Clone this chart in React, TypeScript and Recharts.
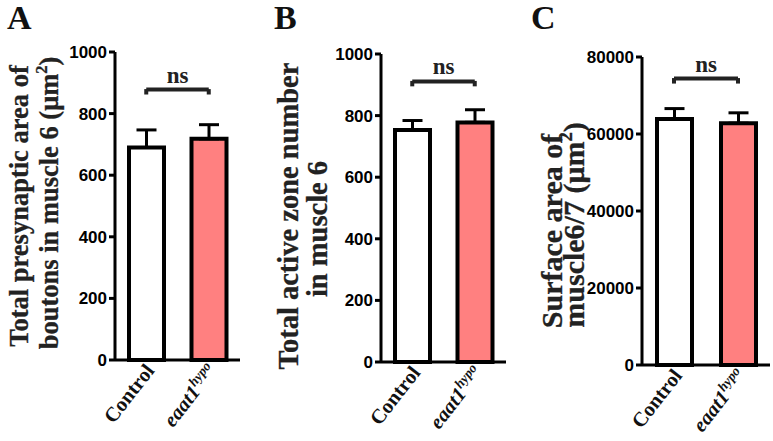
import React from 'react';
import { BarChart, Bar, XAxis, YAxis, Cell, ErrorBar, ReferenceLine } from 'recharts';

const categories = ['Control', 'eaat1'];
const barColors = ['#ffffff', '#ff8080'];

const panelAValues = [690, 718];
const panelAErrors = [57, 46];
const panelATicks = [0, 200, 400, 600, 800, 1000];

const panelBValues = [753, 778];
const panelBErrors = [31, 41];
const panelBTicks = [0, 200, 400, 600, 800, 1000];

const panelCValues = [63900, 62800];
const panelCErrors = [2700, 2700];
const panelCTicks = [0, 20000, 40000, 60000, 80000];

const bracketA = 878;
const bracketB = 911;
const bracketC = 74400;

const SERIF = 'Liberation Serif';
const SANS = 'Liberation Sans';

const buildRows = (values: number[], errors: number[]) =>
  categories.map((c, i) => ({ name: c, value: values[i], err: [0, errors[i]] }));

const XTick = (props: any) => {
  const { x, y, payload } = props;
  const isCtrl = payload.value === 'Control';
  return (
    <g transform={`translate(${x + 9},${y + 3}) rotate(-52)`}>
      <text
        x={0}
        y={0}
        textAnchor="end"
        fontFamily={SERIF}
        fontWeight="bold"
        fontSize={20.5}
        fill="#111"
      >
        {isCtrl ? (
          'Control'
        ) : (
          <>
            <tspan fontStyle="italic">eaat1</tspan>
            <tspan fontStyle="italic" fontSize={13.5} dy={-8}>hypo</tspan>
          </>
        )}
      </text>
    </g>
  );
};

const YTick = (props: any) => {
  const { x, y, payload } = props;
  return (
    <text x={x} y={y} dy={6} textAnchor="end" fontFamily={SANS} fontWeight="bold" fontSize={17} fill="#000">
      {payload.value}
    </text>
  );
};

const NsLabel = (props: any) => {
  const vb = props.viewBox || {};
  const cx = (vb.x || 0) + (vb.width || 0) / 2;
  return (
    <text x={cx} y={(vb.y || 0) - 7} textAnchor="middle" fontFamily={SERIF} fontWeight="bold" fontSize={23} fill="#222">
      ns
    </text>
  );
};

type PanelProps = {
  left: number;
  width: number;
  yAxisWidth: number;
  marginTop: number;
  marginRight: number;
  xAxisHeight: number;
  values: number[];
  errors: number[];
  ticks: number[];
  bracket: number;
  leg: number;
};

const Panel = (p: PanelProps) => {
  const data = buildRows(p.values, p.errors);
  const max = p.ticks[p.ticks.length - 1];
  return (
    <div style={{ position: 'absolute', left: p.left, top: 0 }}>
      <BarChart
        width={p.width}
        height={441}
        data={data}
        margin={{ top: p.marginTop, right: p.marginRight, bottom: 0, left: 0 }}
        barSize={35}
      >
        <XAxis
          dataKey="name"
          height={p.xAxisHeight}
          axisLine={{ stroke: '#000', strokeWidth: 3 }}
          tickLine={false}
          tick={<XTick />}
          interval={0}
        />
        <YAxis
          width={p.yAxisWidth}
          domain={[0, max]}
          ticks={p.ticks}
          interval={0}
          axisLine={{ stroke: '#000', strokeWidth: 3 }}
          tickLine={{ stroke: '#000', strokeWidth: 3 }}
          tickSize={6}
          tickMargin={2}
          tick={<YTick />}
        />
        <Bar dataKey="value" stroke="#000" strokeWidth={4} isAnimationActive={false}>
          {data.map((d, i) => (
            <Cell key={d.name} fill={barColors[i]} />
          ))}
          <ErrorBar dataKey="err" width={10} stroke="#000" strokeWidth={3} direction="y" />
        </Bar>
        <ReferenceLine
          segment={[{ x: categories[0], y: p.bracket }, { x: categories[1], y: p.bracket }]}
          stroke="#222"
          strokeWidth={4}
          ifOverflow="visible"
          label={<NsLabel />}
        />
        <ReferenceLine
          segment={[{ x: categories[0], y: p.bracket + p.leg * 0.1 }, { x: categories[0], y: p.bracket - p.leg }]}
          stroke="#222"
          strokeWidth={4}
          ifOverflow="visible"
        />
        <ReferenceLine
          segment={[{ x: categories[1], y: p.bracket + p.leg * 0.1 }, { x: categories[1], y: p.bracket - p.leg }]}
          stroke="#222"
          strokeWidth={4}
          ifOverflow="visible"
        />
      </BarChart>
    </div>
  );
};

const YLabel = ({ x, y, size, text, sup, after }: { x: number; y: number; size: number; text: string; sup?: string; after?: string }) => (
  <text
    x={x}
    y={y}
    transform={`rotate(-90, ${x}, ${y})`}
    textAnchor="middle"
    fontFamily={SERIF}
    fontWeight="bold"
    fontSize={size}
    fill="#222"
    stroke="#222"
    strokeWidth={0.3}
  >
    {text}
    {sup ? (
      <tspan fontSize={size * 0.62} dy={-size * 0.4}>{sup}</tspan>
    ) : null}
    {after ? <tspan dy={size * 0.4}>{after}</tspan> : null}
  </text>
);

export default function App() {
  return (
    <div style={{ position: 'absolute', left: 0, top: 0, width: 773, height: 441, background: '#fff', overflow: 'hidden' }}>
      <Panel left={0} width={245} yAxisWidth={115} marginTop={52} marginRight={5} xAxisHeight={81}
        values={panelAValues} errors={panelAErrors} ticks={panelATicks} bracket={bracketA} leg={16} />
      <Panel left={260} width={250} yAxisWidth={121} marginTop={54} marginRight={4} xAxisHeight={79}
        values={panelBValues} errors={panelBErrors} ticks={panelBTicks} bracket={bracketB} leg={16} />
      <Panel left={515} width={258} yAxisWidth={127} marginTop={57} marginRight={3} xAxisHeight={76}
        values={panelCValues} errors={panelCErrors} ticks={panelCTicks} bracket={bracketC} leg={1300} />
      <svg width={773} height={441} style={{ position: 'absolute', left: 0, top: 0, pointerEvents: 'none' }}>
        <text x={7} y={29} fontFamily={SERIF} fontWeight="bold" fontSize={34} fill="#111">A</text>
        <text x={274} y={29} fontFamily={SERIF} fontWeight="bold" fontSize={34} fill="#111">B</text>
        <text x={531} y={29} fontFamily={SERIF} fontWeight="bold" fontSize={34} fill="#111">C</text>

        <YLabel x={28} y={206} size={26.5} text="Total presynaptic area of" />
        <YLabel x={58} y={203} size={26.5} text="boutons  in muscle 6 (μm" sup="2" after=")" />

        <YLabel x={298} y={216} size={28.5} text="Total active zone number" />
        <YLabel x={327} y={229} size={28.5} text="in muscle 6" />

        <YLabel x={562} y={231} size={30} text="Surface area of" />
        <YLabel x={584} y={225} size={30} text="muscle6/7 (μm" sup="2" after=")" />
      </svg>
    </div>
  );
}
